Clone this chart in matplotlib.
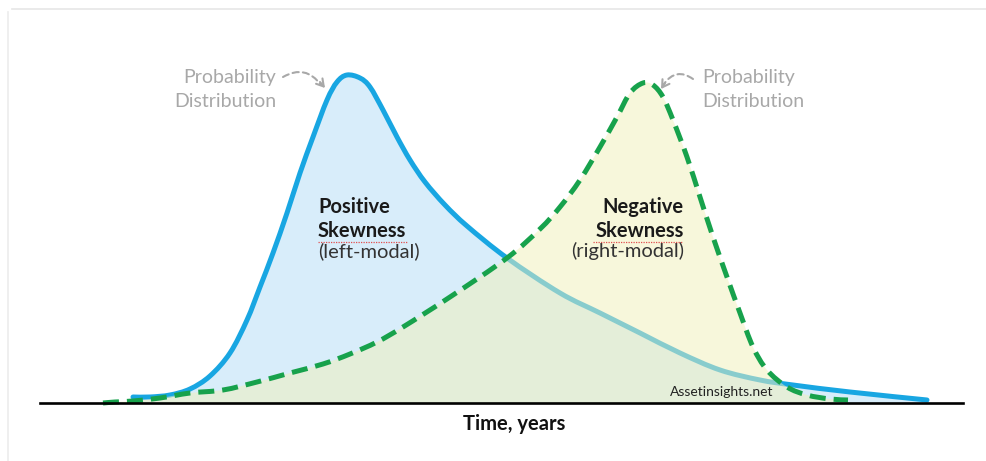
import matplotlib
matplotlib.use("Agg")
import numpy as np
import matplotlib.pyplot as plt
from matplotlib.lines import Line2D
from matplotlib.path import Path
from matplotlib.patches import PathPatch

# ---- data (time in arbitrary years, density in arbitrary units) ----
pos_time = [2.8, 4.5, 6.5, 8.5, 10.5, 12.5, 14.2, 15.5, 16.8, 18.2, 19.5, 20.8, 22.2, 23.2,
            24.2, 25.5, 26.5, 27.8, 29.2, 30.5, 32.0, 34.0, 36.2, 40.2, 45.5, 49.5, 53.5, 57.5,
            61.5, 65.5, 68.8, 74.5, 82.2]
pos_density = [0.06, 0.06, 0.08, 0.14, 0.27, 0.50, 0.83, 1.16, 1.50, 1.90, 2.30, 2.66, 3.03, 3.21,
               3.28, 3.25, 3.16, 2.93, 2.66, 2.43, 2.21, 1.98, 1.77, 1.45, 1.10, 0.90, 0.70, 0.50,
               0.33, 0.23, 0.18, 0.11, 0.03]

neg_time = [-0.2, 1.0, 2.8, 5.5, 8.5, 11.8, 15.2, 18.5, 21.8, 24.5, 27.2, 29.8, 34.5, 40.2,
            43.5, 45.5, 47.5, 49.5, 51.2, 52.5, 53.8, 54.8, 55.8, 56.8, 58.2, 59.5, 60.8,
            62.2, 63.5, 64.8, 66.2, 68.2, 70.2, 72.5, 74.3]
neg_density = [0.00, 0.01, 0.02, 0.05, 0.10, 0.13, 0.21, 0.30, 0.39, 0.49, 0.61, 0.76, 1.06, 1.45,
               1.74, 1.96, 2.23, 2.56, 2.86, 3.10, 3.20, 3.18, 3.06, 2.83, 2.46, 2.06, 1.66,
               1.26, 0.90, 0.56, 0.33, 0.16, 0.08, 0.04, 0.03]

pos_labels = ["Positive", "Skewness", "(left-modal)"]
neg_labels = ["Negative", "Skewness", "(right-modal)"]
dist_labels = ["Probability", "Distribution"]
x_label = "Time, years"
watermark = "Assetinsights.net"


def smooth_path(xs, ys, close_to_zero=False):
    """Cubic Bezier path passing through every data point (Catmull-Rom tangents)."""
    pts = np.column_stack([xs, ys]).astype(float)
    n = len(pts)
    verts = [pts[0]]
    codes = [Path.MOVETO]
    for i in range(n - 1):
        p0 = pts[max(i - 1, 0)]
        p1 = pts[i]
        p2 = pts[i + 1]
        p3 = pts[min(i + 2, n - 1)]
        c1 = p1 + (p2 - p0) / 6.0
        c2 = p2 - (p3 - p1) / 6.0
        verts += [c1, c2, p2]
        codes += [Path.CURVE4] * 3
    if close_to_zero:
        verts += [(pts[-1][0], 0.0), (pts[0][0], 0.0), pts[0]]
        codes += [Path.LINETO, Path.LINETO, Path.CLOSEPOLY]
    return Path(verts, codes)


# ---- figure ----
W, H, DPI = 987, 461, 100
fig = plt.figure(figsize=(W / DPI, H / DPI), dpi=DPI)
fig.patch.set_facecolor("white")
ax = fig.add_axes([0, 0, 1, 1])
ax.set_xlim(-10.5, 88.2)
ax.set_ylim(-0.58, 4.03)
ax.axis("off")

FONT = "Lato"
blue = "#18a6e2"
green = "#17a24c"
gray = "#a8a8a8"

# faint frame
fig.add_artist(Line2D([12 / W, 1], [1 - 9 / H, 1 - 9 / H], color="#e6e6e6", lw=1.2))
fig.add_artist(Line2D([8 / W, 8 / W], [0, 1 - 12 / H], color="#ececec", lw=1.2))

# positive skew
ax.add_patch(PathPatch(smooth_path(pos_time, pos_density, True), facecolor="#d8edfa",
                       edgecolor="none", zorder=1))
ax.add_patch(PathPatch(smooth_path(pos_time, pos_density), facecolor="none", edgecolor=blue,
                       lw=3.6, joinstyle="round", capstyle="round", zorder=2))

# negative skew
ax.add_patch(PathPatch(smooth_path(neg_time, neg_density, True),
                       facecolor=(240 / 255, 240 / 255, 187 / 255, 0.52),
                       edgecolor="none", zorder=3))
ax.add_patch(PathPatch(smooth_path(neg_time, neg_density), facecolor="none", edgecolor=green,
                       lw=3.6, linestyle=(0, (3.2, 1.6)), joinstyle="round", capstyle="butt",
                       zorder=4))

# baseline
ax.plot([-6.5, 85.8], [0, 0], color="black", lw=1.9, zorder=5)

# labels inside
fs = 14.5
for i, (lab, y) in enumerate(zip(pos_labels, [1.90, 1.66, 1.46])):
    ax.text(21.3, y, lab, family=FONT, fontsize=fs, ha="left", va="baseline",
            fontweight="bold" if i < 2 else "normal", color="#1a1a1a" if i < 2 else "#333333",
            zorder=6)
for i, (lab, y) in enumerate(zip(neg_labels, [1.90, 1.66, 1.46])):
    ax.text(57.9, y, lab, family=FONT, fontsize=fs, ha="right", va="baseline",
            fontweight="bold" if i < 2 else "normal", color="#1a1a1a" if i < 2 else "#333333",
            zorder=6)

# spell-check squiggles
ax.plot([21.3, 30.2], [1.615, 1.615], color="#e05050", lw=0.9, ls=(0, (1, 1)), zorder=6)
ax.plot([48.8, 57.8], [1.615, 1.615], color="#e05050", lw=0.9, ls=(0, (1, 1)), zorder=6)

# probability distribution labels
for lab, y in zip(dist_labels, [3.20, 2.96]):
    ax.text(17.1, y, lab, family=FONT, fontsize=14, ha="right", va="baseline", color=gray)
    ax.text(59.7, y, lab, family=FONT, fontsize=14, ha="left", va="baseline", color=gray)

# dashed curved arrows
ax.annotate("", xy=(21.6, 3.18), xytext=(17.8, 3.26),
            arrowprops=dict(arrowstyle="-", color=gray, lw=1.5, ls=(0, (3, 2)),
                            connectionstyle="arc3,rad=-0.45", shrinkA=0, shrinkB=0))
ax.annotate("", xy=(22.0, 3.15), xytext=(21.5, 3.21),
            arrowprops=dict(arrowstyle="->,head_length=0.5,head_width=0.3", color=gray, lw=1.5,
                            shrinkA=0, shrinkB=0))
ax.annotate("", xy=(55.9, 3.19), xytext=(58.8, 3.24),
            arrowprops=dict(arrowstyle="-", color=gray, lw=1.5, ls=(0, (3, 2)),
                            connectionstyle="arc3,rad=0.5", shrinkA=0, shrinkB=0))
ax.annotate("", xy=(55.6, 3.14), xytext=(56.0, 3.20),
            arrowprops=dict(arrowstyle="->,head_length=0.5,head_width=0.3", color=gray, lw=1.5,
                            shrinkA=0, shrinkB=0))

# axis title and watermark
ax.text(40.9, -0.27, x_label, family=FONT, fontsize=14.5, fontweight="bold",
        ha="center", va="baseline", color="#111111")
ax.text(56.5, 0.07, watermark, family=FONT, fontsize=10, ha="left", va="baseline",
        color="#222222", zorder=6)

fig.savefig("out.png", dpi=DPI, facecolor="white")
